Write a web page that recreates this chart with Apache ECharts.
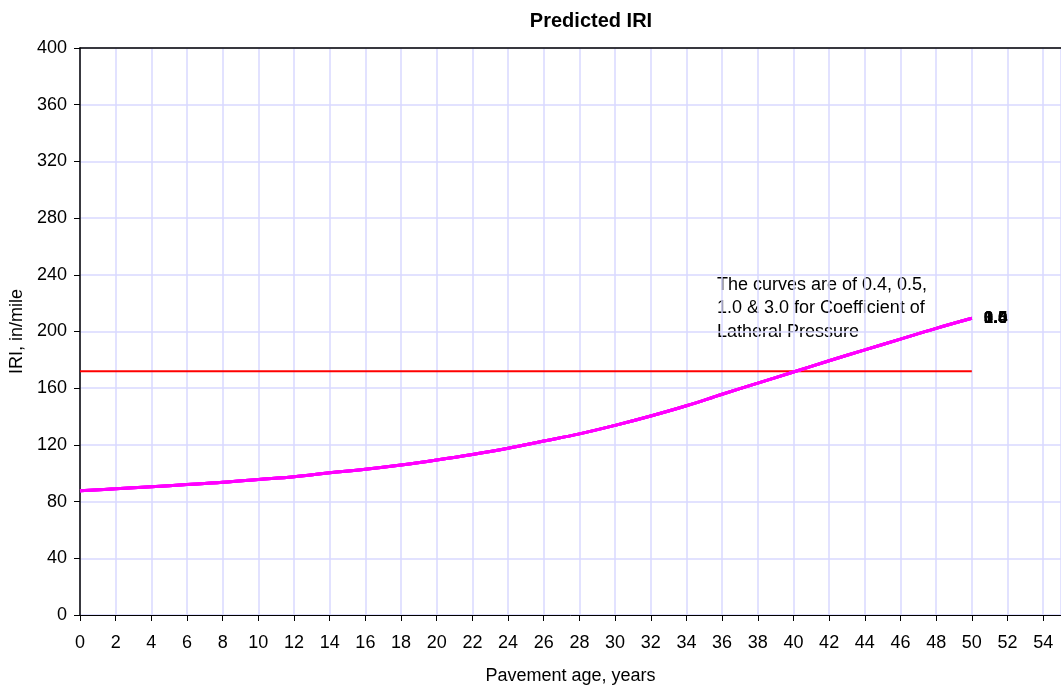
<!DOCTYPE html>
<html><head><meta charset="utf-8">
<script src="https://cdn.jsdelivr.net/npm/echarts@6/dist/echarts.min.js"></script>
<style>html,body{margin:0;padding:0;background:#fff}#c{width:1061px;height:692px}</style>
</head><body><div id="c"></div>
<script>
const years = [0,2,4,6,8,10,12,14,16,18,20,22,24,26,28,30,32,34,36,38,40,42,44,46,48,50];
const iri = [87.7,89,90.5,92,93.6,95.6,97.6,100.3,102.8,105.8,109.3,113.2,117.6,122.7,127.8,133.8,140.4,147.6,155.7,163.6,171.4,179.4,187,194.6,202.2,209.3];
const coefficients = ['0.4','0.5','1.0','3.0'];
const thresholdYears = [0,50];
const thresholdValue = [172,172];
const noteText = 'The curves are of 0.4, 0.5,\n1.0 & 3.0 for Coefficient of\nLatheral Pressure';

const font = 'Liberation Sans, Arial, sans-serif';
const chart = echarts.init(document.getElementById('c'));
const curveSeries = coefficients.map(name => ({
  name, type:'line', smooth:0.4, showSymbol:false, symbol:'none',
  data: years.map((x,i)=>[x, iri[i]]),
  lineStyle:{color:'#FF00FF', width:3}, itemStyle:{color:'#FF00FF'},
  endLabel:{show:true, formatter:name, color:'#000', fontWeight:'bold', fontSize:17, fontFamily:font, distance:12},
  labelLayout:{hideOverlap:false},
  animation:false, z:3
}));
chart.setOption({
  animation:false,
  title:{text:'Predicted IRI', left:586, top:6, textAlign:'center',
    textStyle:{fontSize:20, fontWeight:'bold', color:'#000', fontFamily:font}},
  grid:{left:80, top:48, width:983, height:567},
  xAxis:[{type:'value', min:0, max:55, interval:2,
    name:'Pavement age, years', nameLocation:'middle', nameGap:52,
    nameTextStyle:{fontSize:18, color:'#000', fontFamily:font},
    axisLine:{lineStyle:{color:'#000', width:1}},
    axisTick:{show:true, length:6, inside:false, lineStyle:{color:'#000'}},
    axisLabel:{fontSize:18, color:'#000', fontFamily:font, margin:19, showMaxLabel:false},
    splitLine:{show:true, lineStyle:{color:'#D8D8FF', width:1.5}}},
   {type:'value', position:'top', min:0, max:55, interval:2,
    axisLine:{show:true, onZero:false, lineStyle:{color:'#000', width:1.5}},
    axisTick:{show:false}, axisLabel:{show:false}, splitLine:{show:false}}],
  yAxis:{type:'value', min:0, max:400, interval:40,
    name:'IRI, in/mile', nameLocation:'middle', nameGap:53, nameRotate:90,
    nameTextStyle:{fontSize:18, color:'#000', fontFamily:font},
    axisLine:{show:true, lineStyle:{color:'#000', width:1.5}},
    axisTick:{show:true, length:6, lineStyle:{color:'#000'}},
    axisLabel:{fontSize:18, color:'#000', fontFamily:font, margin:13},
    splitLine:{show:true, lineStyle:{color:'#D8D8FF', width:1.5}}},
  graphic:[{type:'text', left:717, top:273,
    style:{text:noteText, fontSize:18, lineHeight:23.5, fill:'#000', fontFamily:font}}],
  series:[
    {name:'limit', type:'line', showSymbol:false, symbol:'none',
     data: thresholdYears.map((x,i)=>[x, thresholdValue[i]]),
     lineStyle:{color:'#FF0000', width:2}, z:2},
    ...curveSeries
  ]
});
</script></body></html>
